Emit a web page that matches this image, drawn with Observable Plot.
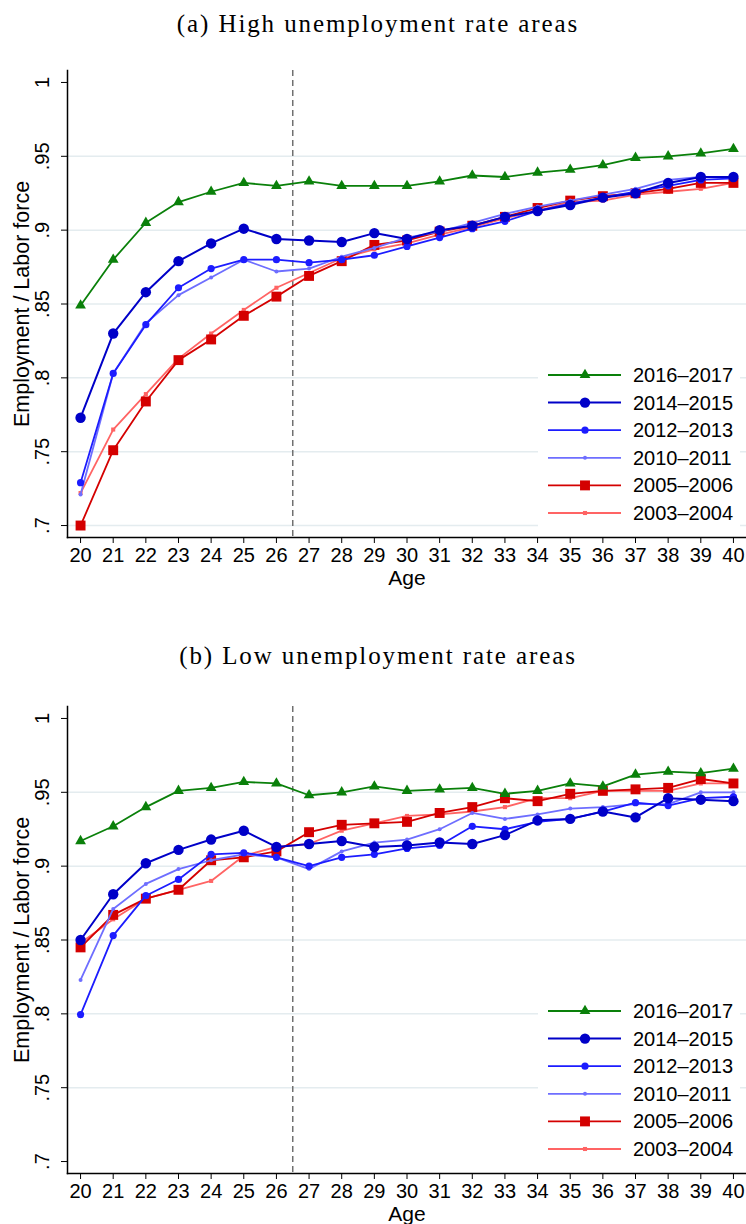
<!DOCTYPE html>
<html><head><meta charset="utf-8">
<script src="https://cdn.jsdelivr.net/npm/d3@7"></script>
<script src="https://cdn.jsdelivr.net/npm/@observablehq/plot@0.6"></script>
<style>
body{margin:0;background:#fff;}
#page{position:relative;width:746px;height:1224px;overflow:hidden;background:#fff;}
.title{position:absolute;left:5px;width:746px;text-align:center;font-family:"Liberation Serif",serif;font-size:25px;line-height:30px;letter-spacing:1.9px;color:#000;}
.panel{position:absolute;left:0;}
.legend{position:absolute;background:#fff;}
</style></head><body><div id="page"></div>
<script>
const ages = [20,21,22,23,24,25,26,27,28,29,30,31,32,33,34,35,36,37,38,39,40];
const seriesLabels = ["2016–2017","2014–2015","2012–2013","2010–2011","2005–2006","2003–2004"];
const yTicks = [0.7,0.75,0.8,0.85,0.9,0.95,1];
const titleA = "(a) High unemployment rate areas";
const titleB = "(b) Low unemployment rate areas";
const yLabel = "Employment / Labor force";
const xLabel = "Age";
const cutoffAge = 26.5;

// Panel (a): high unemployment rate areas
const high2016 = [0.849,0.880,0.905,0.919,0.926,0.932,0.930,0.933,0.930,0.930,0.930,0.933,0.937,0.936,0.939,0.941,0.944,0.949,0.950,0.952,0.955];
const high2014 = [0.773,0.830,0.858,0.879,0.891,0.901,0.894,0.893,0.892,0.898,0.894,0.900,0.903,0.909,0.913,0.917,0.922,0.925,0.932,0.936,0.936];
const high2012 = [0.729,0.803,0.836,0.861,0.874,0.880,0.880,0.878,0.880,0.883,0.889,0.895,0.901,0.906,0.913,0.918,0.922,0.926,0.930,0.934,0.935];
const high2010 = [0.721,0.803,0.837,0.856,0.868,0.880,0.872,0.874,0.882,0.888,0.895,0.899,0.905,0.911,0.916,0.920,0.924,0.928,0.934,0.936,0.936];
const high2005 = [0.700,0.751,0.784,0.812,0.826,0.842,0.855,0.869,0.879,0.890,0.893,0.899,0.903,0.909,0.915,0.920,0.923,0.925,0.928,0.932,0.932];
const high2003 = [0.722,0.765,0.789,0.813,0.830,0.846,0.861,0.871,0.881,0.887,0.891,0.897,0.902,0.908,0.913,0.919,0.920,0.924,0.926,0.928,0.932];

// Panel (b): low unemployment rate areas
const low2016 = [0.917,0.927,0.940,0.951,0.953,0.957,0.956,0.948,0.950,0.954,0.951,0.952,0.953,0.949,0.951,0.956,0.954,0.962,0.964,0.963,0.966];
const low2014 = [0.850,0.881,0.902,0.911,0.918,0.924,0.913,0.915,0.917,0.913,0.914,0.916,0.915,0.921,0.931,0.932,0.937,0.933,0.946,0.945,0.944];
const low2012 = [0.7995,0.853,0.880,0.891,0.908,0.909,0.906,0.900,0.906,0.908,0.912,0.914,0.927,0.925,0.930,0.932,0.937,0.943,0.941,0.946,0.947];
const low2010 = [0.823,0.871,0.888,0.898,0.904,0.908,0.906,0.898,0.910,0.916,0.918,0.925,0.936,0.932,0.935,0.939,0.940,0.942,0.942,0.950,0.950];
const low2005 = [0.845,0.867,0.878,0.884,0.904,0.906,0.910,0.923,0.928,0.929,0.930,0.936,0.940,0.946,0.944,0.949,0.951,0.952,0.953,0.959,0.956];
const low2003 = [0.848,0.864,0.878,0.884,0.890,0.907,0.913,0.915,0.924,0.929,0.934,0.935,0.937,0.940,0.946,0.946,0.951,0.951,0.951,0.956,0.956];

// styles (per series, same order as seriesLabels)
const styles = [
  {color:"#0a800a", symbol:"triangle", r:4.0, sw:1.8},
  {color:"#0000c8", symbol:"circle",   r:5.2, sw:2.0},
  {color:"#1c1cff", symbol:"circle",   r:3.6, sw:1.8},
  {color:"#6e6eff", symbol:"circle",   r:2.0, sw:1.8},
  {color:"#d40000", symbol:"square",   r:5.6, sw:1.8},
  {color:"#ff6464", symbol:"square",   r:2.3, sw:1.8}
];

const page = document.getElementById("page");
const fmt = d => d === 1 ? "1" : String(d).replace(/^0/, "");

function panel(seriesValues, gridTicks) {
  const marks = [
    Plot.ruleY(gridTicks, {stroke:"#e4ecef", strokeWidth:1.5}),
    Plot.ruleX([cutoffAge], {stroke:"#707070", strokeDasharray:"6,4", strokeWidth:1.5})
  ];
  for (let i = seriesValues.length - 1; i >= 0; i--) {
    const s = styles[i];
    const rows = ages.map((a, j) => ({age:a, v:seriesValues[i][j]}));
    marks.push(Plot.line(rows, {x:"age", y:"v", stroke:s.color, strokeWidth:s.sw}));
    marks.push(Plot.dot(rows, {x:"age", y:"v", symbol:s.symbol, r:s.r, fill:s.color, stroke:"none"}));
  }
  marks.push(
    Plot.axisX({ticks:ages, tickSize:6, tickPadding:4, fontSize:20, label:null, tickFormat:d => String(d)}),
    Plot.axisY({ticks:yTicks, tickSize:6, label:null, tickFormat:() => ""}),
    Plot.text(yTicks, {y:d => d, text:fmt, frameAnchor:"left", dx:-25, rotate:-90, fontSize:20, textAnchor:"middle", lineAnchor:"middle"}),
    Plot.frame({anchor:"left", stroke:"#000", strokeWidth:1.5}),
    Plot.frame({anchor:"bottom", stroke:"#000", strokeWidth:1.5}),
    Plot.text([yLabel], {frameAnchor:"left", dx:-45, rotate:-90, fontSize:21.5, textAnchor:"middle", lineAnchor:"middle"}),
    Plot.text([xLabel], {frameAnchor:"bottom", dy:41, fontSize:21, textAnchor:"middle", lineAnchor:"middle"})
  );
  return Plot.plot({
    width:746, height:538,
    marginLeft:67, marginRight:0, marginTop:20, marginBottom:51,
    style:{fontFamily:"'Liberation Sans', Arial, sans-serif", fontSize:"20px", background:"white", overflow:"visible", color:"#000"},
    x:{domain:[19.6, 40.4]},
    y:{domain:[0.6919, 1.0081]},
    marks
  });
}

function legend(top) {
  const box = document.createElement("div");
  box.className = "legend";
  box.style.left = "538px"; box.style.top = top + "px";
  box.style.width = "202px"; box.style.height = "170px";
  const svg = d3.select(box).append("svg").attr("width", 202).attr("height", 170);
  seriesLabels.forEach((lab, i) => {
    const s = styles[i];
    const y = 14 + 27.6 * i;
    const g = svg.append("g");
    g.append("line").attr("x1", 10).attr("x2", 83).attr("y1", y).attr("y2", y)
      .attr("stroke", s.color).attr("stroke-width", s.sw);
    const sym = {circle:d3.symbolCircle, square:d3.symbolSquare, triangle:d3.symbolTriangle}[s.symbol];
    g.append("path").attr("d", d3.symbol(sym, Math.PI * s.r * s.r)())
      .attr("transform", `translate(47,${y})`).attr("fill", s.color);
    g.append("text").attr("x", 95).attr("y", y).attr("dy", "0.35em")
      .attr("font-family", "'Liberation Sans', Arial, sans-serif").attr("font-size", 20)
      .text(lab);
  });
  page.appendChild(box);
}

function addTitle(text, top) {
  const t = document.createElement("div");
  t.className = "title"; t.style.top = top + "px"; t.textContent = text;
  page.appendChild(t);
}

addTitle(titleA, 9);
const pa = panel([high2016, high2014, high2012, high2010, high2005, high2003], [0.7,0.75,0.8,0.85,0.9,0.95]);
pa.classList.add("panel"); pa.style.top = "50px"; page.appendChild(pa);
legend(361);

addTitle(titleB, 641);
const pb = panel([low2016, low2014, low2012, low2010, low2005, low2003], [0.75,0.8,0.85,0.9,0.95]);
pb.classList.add("panel"); pb.style.top = "686px"; page.appendChild(pb);
legend(997);
</script></body></html>
